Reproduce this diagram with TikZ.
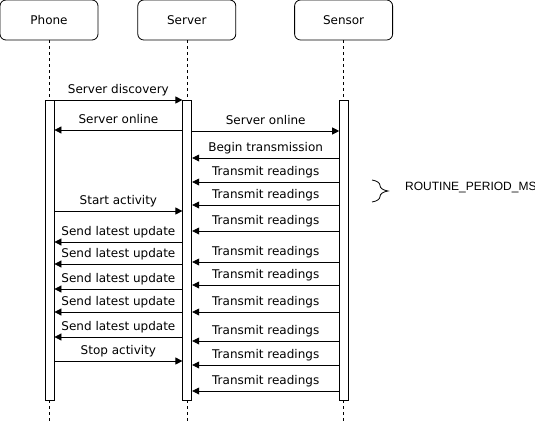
\documentclass[tikz,border=0pt]{standalone}
\usepackage{fontspec}
\setmainfont{DejaVu Sans}
\newfontfamily\notefont{Liberation Sans}
\usetikzlibrary{arrows.meta,positioning,decorations.pathreplacing}

\begin{document}
\begin{tikzpicture}[x=1pt,y=-1pt,node distance=39pt]
        \tikzstyle{head}=[rectangle, rounded corners=6pt, draw=black, line width=0.8pt, fill=white, minimum width=98pt, minimum height=40pt, font=\fontsize{12}{14}\selectfont]
        \tikzstyle{bar}=[rectangle, draw=black, line width=0.8pt, fill=white, minimum width=9pt, minimum height=300pt, inner sep=0pt]
        \tikzstyle{life}=[line width=0.6pt, dash pattern=on 3pt off 3pt]
        \tikzstyle{msg}=[line width=0.8pt, -{Triangle[length=7pt,width=7pt]}]
        \tikzstyle{lbl}=[above, inner sep=0pt, yshift=3pt, text height=9pt, text depth=3pt, font=\fontsize{12}{14}\selectfont]
        \useasboundingbox (0,0) rectangle (535,423);
        % participants
        \node [head] (ph) at (49,20) {Phone};
        \node [head] (sv) [right=39pt of ph] {Server};
        \node [head] (sn) [right=58pt of sv] {Sensor};
        \coordinate (phend) at (ph.center |- 0,423);
        \coordinate (svend) at (sv.center |- 0,423);
        \coordinate (snend) at (sn.center |- 0,423);
        \draw [life] (ph.south) -- (phend);
        \draw [life] (sv.south) -- (svend);
        \draw [life] (sn.south) -- (snend);
        % activations
        \node [bar] (phb) at ([xshift=0.5pt]ph.center |- 0,250) {};
        \node [bar] (svb) at ([xshift=0.5pt]sv.center |- 0,250) {};
        \node [bar] (snb) at ([xshift=0.5pt]sn.center |- 0,250) {};
        % messages
        \draw [msg] (phb.east |- 0,100) -- (svb.west |- 0,100) node [lbl, midway] {Server discovery};
        \draw [msg] (svb.west |- 0,130) -- (phb.east |- 0,130) node [lbl, midway] {Server online};
        \draw [msg] (svb.east |- 0,131) -- (snb.west |- 0,131) node [lbl, midway] {Server online};
        \draw [msg] (snb.west |- 0,158) -- (svb.east |- 0,158) node [lbl, midway] {Begin transmission};
        \draw [msg] (snb.west |- 0,182) -- (svb.east |- 0,182) node [lbl, midway] {Transmit readings};
        \draw [msg] (snb.west |- 0,205) -- (svb.east |- 0,205) node [lbl, midway] {Transmit readings};
        \draw [msg] (phb.east |- 0,211) -- (svb.west |- 0,211) node [lbl, midway] {Start activity};
        \draw [msg] (snb.west |- 0,231) -- (svb.east |- 0,231) node [lbl, midway] {Transmit readings};
        \draw [msg] (svb.west |- 0,242) -- (phb.east |- 0,242) node [lbl, midway] {Send latest update};
        \draw [msg] (snb.west |- 0,262) -- (svb.east |- 0,262) node [lbl, midway] {Transmit readings};
        \draw [msg] (svb.west |- 0,264) -- (phb.east |- 0,264) node [lbl, midway] {Send latest update};
        \draw [msg] (snb.west |- 0,285) -- (svb.east |- 0,285) node [lbl, midway] {Transmit readings};
        \draw [msg] (svb.west |- 0,289) -- (phb.east |- 0,289) node [lbl, midway] {Send latest update};
        \draw [msg] (snb.west |- 0,312) -- (svb.east |- 0,312) node [lbl, midway] {Transmit readings};
        \draw [msg] (svb.west |- 0,312) -- (phb.east |- 0,312) node [lbl, midway] {Send latest update};
        \draw [msg] (svb.west |- 0,337) -- (phb.east |- 0,337) node [lbl, midway] {Send latest update};
        \draw [msg] (snb.west |- 0,341) -- (svb.east |- 0,341) node [lbl, midway] {Transmit readings};
        \draw [msg] (phb.east |- 0,361) -- (svb.west |- 0,361) node [lbl, midway] {Stop activity};
        \draw [msg] (snb.west |- 0,365) -- (svb.east |- 0,365) node [lbl, midway] {Transmit readings};
        \draw [msg] (snb.west |- 0,391) -- (svb.east |- 0,391) node [lbl, midway] {Transmit readings};
        % period note
        \coordinate (brtop) at (372,180);
        \coordinate (brbot) at (372,202);
        \draw [line width=0.8pt, decorate, decoration={brace, amplitude=16pt}] (brtop) -- (brbot);
        \node [anchor=base west, inner sep=0pt, font=\notefont\fontsize{12}{14}\selectfont] (period) at (405,190) {ROUTINE\_PERIOD\_MS};
      \end{tikzpicture}
\end{document}
